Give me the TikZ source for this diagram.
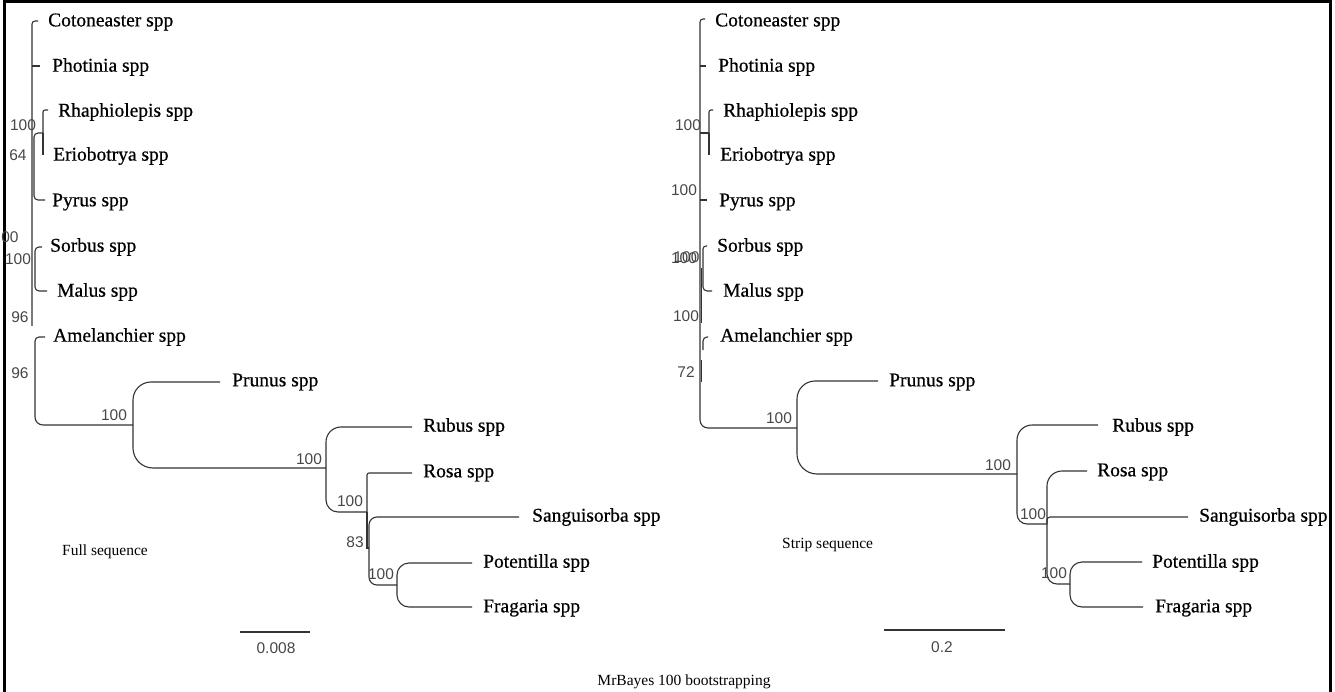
\documentclass[tikz,border=0pt]{standalone}
\usepackage{fontspec}
\setmainfont{Liberation Serif}
\newfontfamily\tipfont[FakeBold=0.6]{Liberation Serif}
\newfontfamily\numfont{Liberation Sans}
\begin{document}
\begin{tikzpicture}[x=1pt,y=-1pt,
  br/.style={draw=black!80, line width=1.1pt},
  frame/.style={draw=black, line width=3pt},
  tip/.style={anchor=west, inner sep=0pt, font=\tipfont\fontsize{19.5}{22}\selectfont},
  bs/.style={inner sep=0pt, font=\numfont\fontsize{15.5}{18}\selectfont, text=black!72},
  small/.style={inner sep=0pt, font=\fontsize{15.5}{18}\selectfont}]
\useasboundingbox (0,0) rectangle (1335,692);
\draw[frame] (4,692) -- (4,2) -- (1330,2) -- (1330,692);

% ---------------- left tree: tips ----------------
\node[tip] (lcot) at (48,22) {Cotoneaster spp};
\node[tip] (lpho) at (52,67) {Photinia spp};
\node[tip] (lrha) at (58,112) {Rhaphiolepis spp};
\node[tip] (leri) at (53,156) {Eriobotrya spp};
\node[tip] (lpyr) at (52,202) {Pyrus spp};
\node[tip] (lsor) at (50,247) {Sorbus spp};
\node[tip] (lmal) at (57,292) {Malus spp};
\node[tip] (lame) at (53,337) {Amelanchier spp};
\node[tip] (lpru) at (232,382) {Prunus spp};
\node[tip] (lrub) at (423,427) {Rubus spp};
\node[tip] (lros) at (423,473) {Rosa spp};
\node[tip] (lsan) at (532,517) {Sanguisorba spp};
\node[tip] (lpot) at (483,563) {Potentilla spp};
\node[tip] (lfra) at (483,608) {Fragaria spp};

\coordinate (Lcot) at (38,21);
\coordinate (Lpho) at (40,66);
\coordinate (Lrha) at (48,110);
\coordinate (Leri) at (43,155);
\coordinate (Lpyr) at (45,200);
\coordinate (Lsor) at (42,247);
\coordinate (Lmal) at (47,291);
\coordinate (Lame) at (45,337);
\coordinate (Lpru) at (220,382);
\coordinate (Lrub) at (412,427);
\coordinate (Lros) at (412,473);
\coordinate (Lsan) at (519,517);
\coordinate (Lpot) at (472,563);
\coordinate (Lfra) at (472,607);
% internal nodes
\coordinate (LRb) at (32,326);
\coordinate (LRE) at (43,133);
\coordinate (L64) at (34,167);
\coordinate (LSM) at (35,270);
\coordinate (LA) at (35,380);
\coordinate (LPR) at (133,425);
\coordinate (LRS) at (326,468);
\coordinate (LRO) at (367,512);
\coordinate (L83) at (369,548);
\coordinate (LPF) at (397,585);

\draw[br,rounded corners=3pt] (LRb) |- (Lcot);
\draw[br] (LRb |- Lpho) -- (Lpho);
\draw[br,rounded corners=2pt] (LRE) |- (Lrha);
\draw[br] (LRE) -- (Leri);
\draw[br,rounded corners=4pt] (L64) |- (LRE);
\draw[br,rounded corners=4pt] (L64) |- (Lpyr);
\draw[br,rounded corners=4pt] (LSM) |- (Lsor);
\draw[br,rounded corners=4pt] (LSM) |- (Lmal);
\draw[br,rounded corners=4pt] (LA) |- (Lame);
\draw[br,rounded corners=8pt] (LA) |- (LPR);
\draw[br,rounded corners=18pt] (LPR) |- (Lpru);
\draw[br,rounded corners=20pt] (LPR) |- (LRS);
\draw[br,rounded corners=15pt] (LRS) |- (Lrub);
\draw[br,rounded corners=12pt] (LRS) |- (LRO);
\draw[br,rounded corners=2pt] (LRO) |- (Lros);
\draw[br] (LRO) |- (L83);
\draw[br,rounded corners=8pt] (L83) |- (Lsan);
\draw[br,rounded corners=8pt] (L83) |- (LPF);
\draw[br,rounded corners=12pt] (LPF) |- (Lpot);
\draw[br,rounded corners=12pt] (LPF) |- (Lfra);

% left support values
\node[bs] (lb1) at (23,125) {100};
\node[bs] (lb2) at (18,155) {64};
\node[bs] (lb3) at (10,237) {00};
\node[bs] (lb4) at (18,259) {100};
\node[bs] (lb5) at (20,317) {96};
\node[bs] (lb6) at (20,373) {96};
\node[bs] (lb7) at (114,415) {100};
\node[bs] (lb8) at (309,459) {100};
\node[bs] (lb9) at (350,501) {100};
\node[bs] (lb10) at (355,542) {83};
\node[bs] (lb11) at (381,574) {100};

% ---------------- right tree: tips ----------------
\node[tip] (rcot) at (715,22) {Cotoneaster spp};
\node[tip] (rpho) at (718,67) {Photinia spp};
\node[tip] (rrha) at (723,112) {Rhaphiolepis spp};
\node[tip] (reri) at (720,156) {Eriobotrya spp};
\node[tip] (rpyr) at (719,202) {Pyrus spp};
\node[tip] (rsor) at (717,247) {Sorbus spp};
\node[tip] (rmal) at (723,292) {Malus spp};
\node[tip] (rame) at (720,337) {Amelanchier spp};
\node[tip] (rpru) at (889,382) {Prunus spp};
\node[tip] (rrub) at (1112,427) {Rubus spp};
\node[tip] (rros) at (1097,472) {Rosa spp};
\node[tip] (rsan) at (1199,517) {Sanguisorba spp};
\node[tip] (rpot) at (1152,563) {Potentilla spp};
\node[tip] (rfra) at (1155,608) {Fragaria spp};

\coordinate (Rcot) at (705,19);
\coordinate (Rpho) at (706,66);
\coordinate (Rrha) at (713,110);
\coordinate (Reri) at (709,155);
\coordinate (Rpyr) at (707,200);
\coordinate (Rsor) at (707,246);
\coordinate (Rmal) at (712,291);
\coordinate (Rame) at (708,337);
% internal nodes
\coordinate (RRb) at (700,405);
\coordinate (RRE) at (709,133);
\coordinate (RSM) at (703,268);
\coordinate (RAm) at (703,350);
\coordinate (RPR) at (797,428);
\coordinate (RRS) at (1017,474);
\coordinate (RRO) at (1047,524);
\coordinate (RPF) at (1070,584);
\coordinate (Rpru) at (878,381);
\coordinate (Rrub) at (1098,425);
\coordinate (Rros) at (1087,471);
\coordinate (Rsan) at (1188,517);
\coordinate (Rpot) at (1142,562);
\coordinate (Rfra) at (1143,607);

\draw[br,rounded corners=3pt] (RRb) |- (Rcot);
\draw[br,rounded corners=8pt] (RRb) |- (RPR);
\draw[br] (RRb |- Rpho) -- (Rpho);
\draw[br] (RRb |- RRE) -- (RRE);
\draw[br,rounded corners=2pt] (RRE) |- (Rrha);
\draw[br] (RRE) -- (Reri);
\draw[br] (RRb |- Rpyr) -- (Rpyr);
\draw[br,rounded corners=3pt] (RSM) |- (Rsor);
\draw[br,rounded corners=4pt] (RSM) |- (Rmal);
\draw[br,rounded corners=4pt] (RAm) |- (Rame);
\draw[br] (701.5,268) -- (701.5,323);
\draw[br] (701.5,360) -- (701.5,382);
\draw[br,rounded corners=18pt] (RPR) |- (Rpru);
\draw[br,rounded corners=20pt] (RPR) |- (RRS);
\draw[br,rounded corners=15pt] (RRS) |- (Rrub);
\draw[br,rounded corners=10pt] (RRS) |- (RRO);
\draw[br,rounded corners=15pt] (RRO) |- (Rros);
\draw[br,rounded corners=3pt] (RRO) |- (Rsan);
\draw[br,rounded corners=10pt] (RRO) |- (RPF);
\draw[br,rounded corners=12pt] (RPF) |- (Rpot);
\draw[br,rounded corners=12pt] (RPF) |- (Rfra);

% right support values
\node[bs] (rb1) at (688,125) {100};
\node[bs] (rb2) at (684,190) {100};
\node[bs] (rb3) at (684,258) {100};
\node[bs] (rb3b) at (686.5,257) {100};
\node[bs] (rb4) at (686,316) {100};
\node[bs] (rb5) at (686,372) {72};
\node[bs] (rb6) at (779,418) {100};
\node[bs] (rb7) at (998,465) {100};
\node[bs] (rb8) at (1033,514) {100};
\node[bs] (rb9) at (1054,573) {100};

% captions and scale bars
\node[small,anchor=west] (lcap) at (62,552) {Full sequence};
\node[small,anchor=west] (rcap) at (782,545) {Strip sequence};
\coordinate (ls1) at (240,632);
\coordinate (ls2) at (310,632);
\draw[br] (ls1) -- (ls2);
\node[bs] (lsl) at (276,648) {0.008};
\coordinate (rs1) at (884,630);
\coordinate (rs2) at (1005,630);
\draw[br] (rs1) -- (rs2);
\node[bs] (rsl) at (942,647) {0.2};
\node[small] (title) at (684,682) {MrBayes 100 bootstrapping};
\end{tikzpicture}
\end{document}
